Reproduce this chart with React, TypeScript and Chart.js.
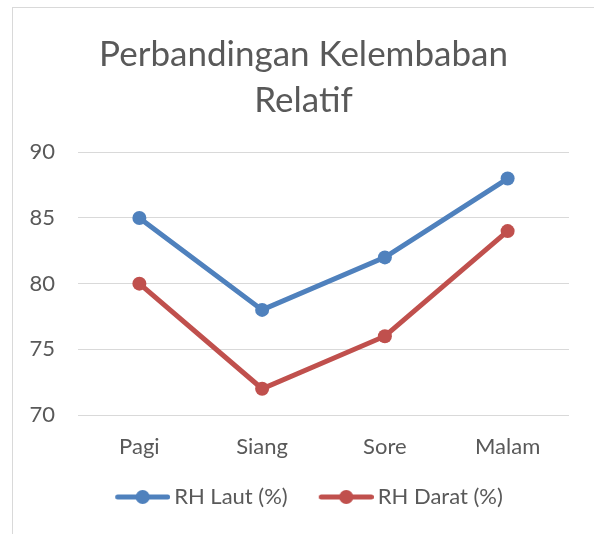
import React, { useEffect, useRef } from "react";
import { Chart, registerables } from "chart.js";

Chart.register(...registerables);

const titleLines = ["Perbandingan Kelembaban", "Relatif"];
const categories = ["Pagi", "Siang", "Sore", "Malam"];
const seriesNames = ["RH Laut (%)", "RH Darat (%)"];
const rhLaut = [85, 78, 82, 88];
const rhDarat = [80, 72, 76, 84];
const yTicks = [70, 75, 80, 85, 90];

const BLUE = "#4f81bd";
const RED = "#c0504d";
const TEXT = "#595959";
const GRID = "#d9d9d9";
const FONT = "Lato, 'Open Sans', sans-serif";

// Legend icon: transparent lead-in, then a line with a round marker
function legendIcon(color: string): HTMLCanvasElement {
  const c = document.createElement("canvas");
  c.width = 73;
  c.height = 16;
  const ctx = c.getContext("2d")!;
  ctx.strokeStyle = color;
  ctx.lineWidth = 5;
  ctx.lineCap = "round";
  ctx.beginPath();
  ctx.moveTo(20.5, 8);
  ctx.lineTo(70.5, 8);
  ctx.stroke();
  ctx.fillStyle = color;
  ctx.beginPath();
  ctx.arc(45.5, 8, 7, 0, Math.PI * 2);
  ctx.fill();
  return c;
}

export default function App() {
  const ref = useRef<HTMLCanvasElement | null>(null);

  useEffect(() => {
    if (!ref.current) return;
    const colors = [BLUE, RED];
    const icons = colors.map(legendIcon);
    const chart = new Chart(ref.current, {
      type: "line",
      data: {
        labels: categories,
        datasets: [
          {
            label: seriesNames[0],
            data: rhLaut,
            borderColor: BLUE,
            backgroundColor: BLUE,
            borderWidth: 5,
            pointRadius: 7,
            pointBackgroundColor: BLUE,
            pointBorderColor: BLUE,
            pointBorderWidth: 0,
            tension: 0,
          },
          {
            label: seriesNames[1],
            data: rhDarat,
            borderColor: RED,
            backgroundColor: RED,
            borderWidth: 5,
            pointRadius: 7,
            pointBackgroundColor: RED,
            pointBorderColor: RED,
            pointBorderWidth: 0,
            tension: 0,
          },
        ],
      },
      options: {
        responsive: false,
        animation: false,
        devicePixelRatio: 1,
        layout: { padding: 0 },
        plugins: {
          title: {
            display: true,
            text: titleLines,
            color: TEXT,
            font: { family: FONT, size: 35, weight: "normal", lineHeight: 1.29 },
            padding: { top: 24.5, bottom: 29.5 },
          },
          legend: {
            position: "bottom",
            labels: {
              usePointStyle: true,
              pointStyleWidth: 59,
              padding: 20,
              color: TEXT,
              font: { family: FONT, size: 22 },
              generateLabels: (c: any) =>
                c.data.datasets.map((ds: any, i: number) => ({
                  text: ds.label,
                  pointStyle: icons[i],
                  fillStyle: colors[i],
                  strokeStyle: colors[i],
                  fontColor: TEXT,
                  lineWidth: 0,
                  hidden: false,
                  datasetIndex: i,
                })),
            },
          },
          tooltip: { enabled: false },
        },
        scales: {
          x: {
            offset: true,
            grid: { display: false },
            border: { display: false },
            ticks: { color: TEXT, font: { family: FONT, size: 22 }, padding: 10.8 },
            afterFit: (s: any) => {
              s.height = 51;
            },
          },
          y: {
            min: 70,
            max: 90,
            afterBuildTicks: (s: any) => {
              s.ticks = yTicks.map((v) => ({ value: v }));
            },
            grid: { color: GRID, lineWidth: 1, drawTicks: false },
            border: { display: false },
            ticks: { color: TEXT, font: { family: FONT, size: 22 }, padding: 23 },
            afterFit: (s: any) => {
              s.width = 65;
            },
          },
          y2: {
            position: "right",
            display: true,
            grid: { display: false },
            border: { display: false },
            ticks: { display: false },
            afterFit: (s: any) => {
              s.width = 25;
            },
          },
        },
      },
    } as any);
    return () => chart.destroy();
  }, []);

  return (
    <div
      style={{
        position: "fixed",
        left: 12,
        top: 7,
        width: 600,
        height: 600,
        borderTop: `1px solid ${GRID}`,
        borderLeft: `1px solid ${GRID}`,
        background: "#fff",
      }}
    >
      <canvas ref={ref} width={581} height={510} style={{ display: "block", width: 581, height: 510 }} />
    </div>
  );
}
